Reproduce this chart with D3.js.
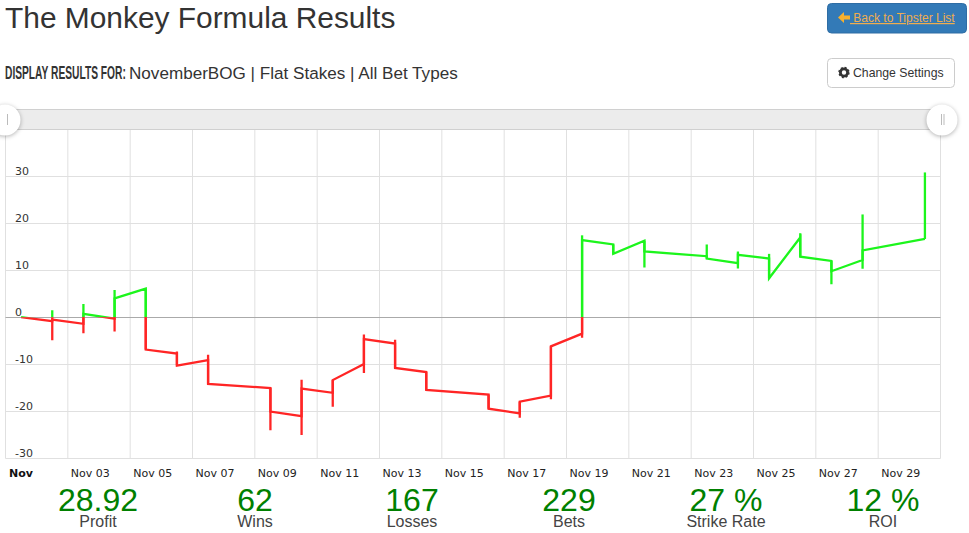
<!DOCTYPE html>
<html><head><meta charset="utf-8">
<script src="https://cdnjs.cloudflare.com/ajax/libs/d3/7.8.5/d3.min.js"></script>
<style>
html,body{margin:0;padding:0;background:#fff;overflow:hidden}
svg{display:block}
text{font-family:"Liberation Sans",Arial,sans-serif}
</style></head><body>
<svg id="c" width="969" height="533"></svg>
<script>
const days    = [2,3,4,5,6,7,9,10,11,12,13,14,16,17,18,19,20,21,23,24,25,26,27,28,30];
const arrive  = [-0.85,-1.4,-0.3,6.1,-7.75,-9.15,-15.1,-21.1,-16.1,-10,-5.6,-11.7,-16.5,-20.5,-16.7,-3.5,15.5,16.3,13,11.5,12.5,17,12,12.2,16.67];
const leave   = [-0.5,0.7,4.0,-6.9,-10.3,-14.2,-20.1,-15.2,-13.4,-4.65,-10.8,-15.5,-19.5,-18,-6.2,16.45,13.5,14,12.5,13.3,8.3,12.9,9.8,14.25,16.67];
const high    = [1.5,2.8,5.8,6.1,-7.3,-8.0,-15.1,-13.3,-13.4,-3.7,-4.8,-11.7,-16.5,-18,-6.2,17.45,15.5,16.3,15.5,14,13.5,17.9,12,21.9,30.85];
const low     = [-4.9,-3.4,-3.05,-6.9,-10.3,-14.2,-24.1,-25.1,-19.1,-11.9,-10.8,-15.5,-19.5,-21.4,-17.5,-4.4,13.5,10.6,12.5,10.4,8.3,12.9,7,10.35,16.67];
const startDay = 1, startValue = 0;
const yTicks = [-30,-20,-10,0,10,20,30];
const xLabelDays = [3,5,7,9,11,13,15,17,19,21,23,25,27,29];
const statValues = ["28.92","62","167","229","27 %","12 %"];
const statLabels = ["Profit","Wins","Losses","Bets","Strike Rate","ROI"];
const fmtDay = d3.utcFormat("%b %d");

const date = (d,h=0)=>new Date(Date.UTC(2015,10,d,h));
const svg = d3.select("#c");
const L=5.5,R=940.5,T=129.5,B=458;
const x = d3.scaleUtc().domain([date(1),date(31)]).range([L,R]);
const y = d3.scaleLinear().domain([-30,40]).range([B,T]);
const snap = v=>Math.floor(v)+.5;

// header
svg.append("text").attr("x",5).attr("y",28).attr("font-size",29.9).attr("fill","#333").text("The Monkey Formula Results");
const lab = svg.append("text").attr("font-size",18).attr("font-weight","bold").attr("fill","#333").style("font-family","'Liberation Sans Narrow','Liberation Sans',sans-serif").text("DISPLAY RESULTS FOR:");
lab.attr("transform",`translate(5,79) scale(${121/lab.node().getComputedTextLength()},1)`);
svg.append("text").attr("x",129).attr("y",79).attr("font-size",17.1).attr("fill","#333").text("NovemberBOG | Flat Stakes | All Bet Types");

// blue button
svg.append("rect").attr("x",827.5).attr("y",3.5).attr("width",139).attr("height",29.5).attr("rx",4).attr("fill","#337ab7").attr("stroke","#2e6da4");
svg.append("path").attr("d","M838 17.5l6-5.5v3.5h6v4h-6v3.5z").attr("fill","#f7b02c");
svg.append("text").attr("x",850).attr("y",22).attr("font-size",12).attr("fill","#f0ad4e").attr("text-decoration","underline").style("white-space","pre").text(" Back to Tipster List");

// settings button
svg.append("rect").attr("x",827.5).attr("y",58.5).attr("width",127).attr("height",29).attr("rx",4).attr("fill","#fff").attr("stroke","#ccc");
svg.append("circle").attr("cx",844).attr("cy",72.5).attr("r",3.6).attr("fill","none").attr("stroke","#333").attr("stroke-width",2.8);
svg.append("circle").attr("cx",844).attr("cy",72.5).attr("r",5).attr("fill","none").attr("stroke","#333").attr("stroke-width",1.4).attr("stroke-dasharray","2 1.93");
svg.append("text").attr("x",853).attr("y",77).attr("font-size",12.25).attr("fill","#333").text("Change Settings");

// plot grid
const grid = svg.append("g");
grid.selectAll("line.v").data(d3.utcDay.range(date(1),date(32),1).filter(d=>(d.getUTCDate()%2===1)||d.getUTCMonth()===11))
  .join("line").attr("class","v").attr("x1",d=>x(d)).attr("x2",d=>x(d)).attr("y1",T).attr("y2",458.5).attr("stroke","#e0e0e0");
grid.selectAll("line.h").data(y.ticks(7).filter(v=>v!==0))
  .join("line").attr("class","h").attr("x1",L).attr("x2",R).attr("y1",d=>d===-30?458.5:snap(y(d))).attr("y2",d=>d===-30?458.5:snap(y(d))).attr("stroke","#e0e0e0");

// slider
svg.append("rect").attr("x",-2).attr("y",109.5).attr("width",950).attr("height",20).attr("fill","#ececec").attr("stroke","#d0d0d0");
[[5,["7"]],[942,["941","943.5"]]].forEach(([cx,bars])=>{
  svg.append("circle").attr("cx",cx).attr("cy",120).attr("r",15.5).attr("fill","#fff").style("filter","drop-shadow(0 1px 2px rgba(0,0,0,.3))");
  bars.forEach(b=>svg.append("line").attr("x1",+b+.5).attr("x2",+b+.5).attr("y1",114).attr("y2",125).attr("stroke","#bbb"));
});

// y labels
svg.append("g").selectAll("text").data(yTicks).join("text")
  .attr("x",15).attr("y",d=>y(d)-1.5).attr("font-size",11).attr("fill","#333").style("font-family","'DejaVu Sans'")
  .text(d=>d);
svg.append("line").attr("x1",L).attr("x2",R).attr("y1",snap(y(0))).attr("y2",snap(y(0))).attr("stroke","#aaa");

// series
const pts = [{d:date(startDay,12),v:startValue}];
days.forEach((d,i)=>{pts.push({d:date(d,12),v:arrive[i]});pts.push({d:date(d,12),v:leave[i]});});
const line = d3.line().x(p=>x(p.d)).y(p=>y(p.v));
const defs = svg.append("defs");
defs.append("clipPath").attr("id","above").append("rect").attr("x",0).attr("width",969).attr("y",0).attr("height",y(0));
defs.append("clipPath").attr("id","below").append("rect").attr("x",0).attr("width",969).attr("y",y(0)).attr("height",533-y(0));
[["above","#1cf51c"],["below","#ff2525"]].forEach(([id,col])=>{
  const g = svg.append("g").attr("clip-path",`url(#${id})`);
  g.append("path").attr("d",line(pts)).attr("fill","none").attr("stroke",col).attr("stroke-width",2.3);
  g.selectAll("line").data(days).join("line")
    .attr("x1",d=>x(date(d,12))).attr("x2",d=>x(date(d,12)))
    .attr("y1",(d,i)=>y(high[i])).attr("y2",(d,i)=>y(low[i]))
    .attr("stroke",col).attr("stroke-width",2.3);
});

// x labels
const xl = svg.append("g").attr("font-size",11).attr("fill","#222");
xl.append("text").attr("x",9).attr("y",477).attr("font-weight","bold").attr("fill","#111").style("font-family","'DejaVu Sans'").text("Nov");
xl.selectAll("text.d").data(xLabelDays).join("text").attr("class","d")
  .attr("x",d=>x(date(d))+22.5).attr("y",477).attr("text-anchor","middle").style("font-family","'DejaVu Sans'")
  .text(d=>fmtDay(date(d)));

// stats
const cx = d3.scalePoint().domain(statLabels).range([98,883]);
svg.append("g").selectAll("text").data(statValues).join("text")
  .attr("x",(d,i)=>cx(statLabels[i])).attr("y",511).attr("text-anchor","middle").attr("font-size",32).attr("fill","#008000").text(d=>d);
svg.append("g").selectAll("text").data(statLabels).join("text")
  .attr("x",d=>cx(d)).attr("y",527).attr("text-anchor","middle").attr("font-size",16).attr("fill","#444").text(d=>d);
</script>
</body></html>
